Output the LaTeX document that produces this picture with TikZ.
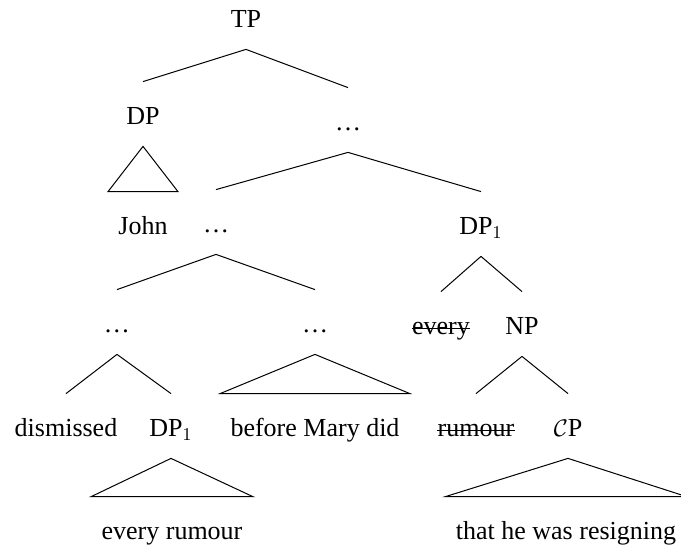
\documentclass[tikz,border=0pt]{standalone}
\usepackage{fontspec}
\setmainfont{Liberation Serif}
\usepackage{tikz}

\tikzset{
    cat/.style={anchor=base, inner xsep=5pt, inner ysep=0pt, text height=21.5pt, text depth=10.5pt},
    branch/.style={line width=0.5pt}
}

\begin{document}
\begin{tikzpicture}[x=0.5pt, y=-0.5pt, font=\fontsize{13}{15.5}\selectfont]
        % Fix the size of the picture
        \useasboundingbox (0,0) rectangle (681,550);

        % Top of the tree
        \node[cat] (tp) at (246, 28) {TP};
        \node[cat] (dp) at (143, 125) {DP};
        \node[cat] (dotsA) at (348, 131) {…};

        % Third row
        \node[cat] (john) at (143, 235) {John};
        \node[cat] (dotsB) at (216, 233) {…};
        \node[cat] (dpa) at (481, 235) {DP$_1$};

        % Fourth row
        \node[cat] (dotsC) at (117, 333) {…};
        \node[cat] (dotsD) at (315, 333) {…};
        \node[cat] (every) at (441, 335) {every};
        \node[cat] (np) at (522, 335) {NP};

        % Fifth row
        \node[cat] (dismissed) at (66, 437) {dismissed};
        \node[cat] (dpb) at (171, 437) {DP$_1$};
        \node[cat] (before) at (315, 437) {before Mary did};
        \node[cat] (rumour) at (476, 437) {rumour};
        \node[cat] (cp) at (568, 437) {$\mathcal{C}$P};

        % Bottom row
        \node[cat] (everyrumour) at (172, 540) {every rumour};
        \node[cat] (resigning) at (566, 540) {that he was resigning};

        % Draw the branches
        \foreach \p/\c in {tp/dp, tp/dotsA, dotsA/dotsB, dotsA/dpa, dotsB/dotsC, dotsB/dotsD,
                           dpa/every, dpa/np, dotsC/dismissed, dotsC/dpb, np/rumour, np/cp} {
            \draw[branch] (\p.south) -- (\c.north);
        }

        % Draw the triangles
        \foreach \p/\c in {dp/john, dotsD/before, dpb/everyrumour, cp/resigning} {
            \draw[branch] (\p.south) -- (\c.north west) -- (\c.north east) -- cycle;
        }

        % Strike out the deleted copies
        \foreach \n in {every, rumour} {
            \draw[branch] ([xshift=5pt, yshift=3.4pt]\n.base west) -- ([xshift=-5pt, yshift=3.4pt]\n.base east);
        }
    \end{tikzpicture}
\end{document}
